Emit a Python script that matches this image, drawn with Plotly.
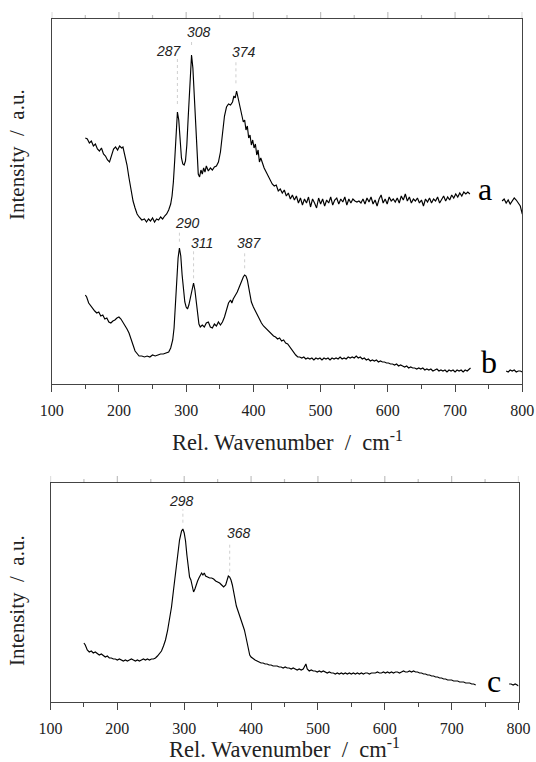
import plotly.graph_objects as go

# ---------------- data ----------------
# spectrum a (upper panel), intensity in arbitrary units
a_wn = [150,153,156,159,162,165,168,171,174,177,180,183,186,189,192,195,198,201,204,206,209,212,215,218,221,224,227,230,234,238,241,244,247,250,253,256,259,262,265,268,271,274,277,279,281,283,285,287,289,291,293,295,297,299,301,303,305,307,308,310,312,314,316,318,320,322,324,326,328,330,333,336,339,342,345,348,351,354,357,360,363,366,369,371,373,375,377,379,381,383,385,387,389,391,393,395,397,399,401,403,405,407,409,411,413,416,419,422,425,428,431,434,437,440,443,446,449,452,455,458,461,464,467,470,473,476,479,482,485,488,491,494,497,500,503,506,509,512,515,518,521,524,527,530,533,536,539,542,545,548,551,554,557,560,563,566,569,572,575,578,581,584,587,590,593,596,599,602,605,608,611,614,617,620,623,626,629,632,635,638,641,644,647,650,653,656,659,662,665,668,671,674,677,680,683,686,689,692,695,698,701,704,707,710,713,716,719,722]
a_int = [246,245,241,243,238,240,235,233,236,230,228,224,222,229,235,237,234,238,236,237,229,219,206,194,183,176,170,167,164,165,162,165,163,166,162,165,164,167,165,168,170,174,180,188,202,224,249,272,264,242,226,220,219,223,239,266,296,324,329,316,289,254,224,210,207,214,210,216,212,218,213,216,214,217,218,222,232,249,268,277,280,279,282,288,286,293,287,281,276,268,262,264,254,258,246,249,239,244,236,240,229,234,222,226,221,216,212,208,204,200,198,199,193,195,191,194,188,191,185,189,184,188,181,186,179,185,181,187,177,185,181,176,186,180,185,178,184,181,187,179,184,186,180,185,182,187,179,185,181,185,183,182,183,181,185,180,186,182,187,180,184,178,185,189,181,185,180,187,183,185,182,186,181,188,184,190,183,187,181,185,183,186,181,184,178,185,182,186,181,185,183,187,181,185,188,183,187,184,189,186,190,187,191,188,192,190,192,190]
a_tail_wn = [770,773,776,779,782,785,788,791,794,797,800]
a_tail_int = [183,185,181,184,180,183,186,184,181,178,170]

# spectrum b (upper panel)
b_wn = [150,152,155,158,161,164,167,170,173,176,179,182,185,188,191,194,197,200,203,206,209,212,215,218,221,224,227,230,234,238,242,246,250,254,258,262,266,270,274,277,280,282,284,286,288,290,292,294,296,298,300,302,304,306,308,310,311,313,315,317,319,321,324,327,330,333,336,339,342,345,348,351,354,357,360,363,366,368,370,373,376,379,382,385,387,389,391,393,395,397,400,403,406,409,412,415,418,421,424,427,430,433,436,439,442,445,448,451,454,457,460,463,466,469,472,475,478,481,484,487,490,493,496,499,502,505,508,511,514,517,520,523,526,529,532,535,538,541,544,547,550,553,556,559,562,565,568,571,574,577,580,583,586,589,592,595,598,601,604,607,610,613,616,619,622,625,628,631,634,637,640,643,646,649,652,655,658,661,664,667,670,673,676,679,682,685,688,691,694,697,700,703,706,709,712,715,718,721,723]
b_int = [89,87,81,78,75,73,71,72,68,69,65,66,62,61,63,64,66,67,65,62,59,55,51,46,39,33,30,28,28,27,28,27,29,28,29,30,30,31,32,36,44,56,79,104,126,136,128,109,92,82,77,75,79,86,94,100,101,94,81,68,60,57,59,57,61,62,57,56,60,58,62,59,62,67,74,81,84,81,85,88,92,97,103,107,109,108,104,97,89,82,77,73,68,65,61,58,56,53,51,50,48,47,45,46,43,44,41,40,37,34,31,29,27,27,26,27,25,26,25,26,24,26,25,26,24,26,25,26,24,26,25,26,25,27,25,26,25,27,26,27,26,28,26,27,25,26,24,25,23,24,23,24,22,23,22,22,21,21,20,20,19,20,18,19,18,17,18,16,17,16,16,15,16,15,16,14,15,14,15,13,14,15,13,14,13,14,12,14,13,14,12,14,13,14,12,14,13,15,16]
b_tail_wn = [776,779,782,785,788,791,794,797,800]
b_tail_int = [13,12,14,13,14,12,13,13,12]

# spectrum c (lower panel)
c_wn = [150,152,155,158,161,164,167,170,173,176,179,182,185,188,191,194,197,200,203,206,209,212,215,218,221,224,227,230,233,236,239,242,245,248,251,254,257,260,263,266,269,272,275,278,281,284,287,290,293,296,298,300,302,304,306,308,310,312,314,316,318,320,322,324,326,328,330,332,335,338,341,344,347,350,353,356,359,362,364,366,368,370,372,374,376,378,380,382,384,386,388,390,392,394,396,398,400,403,406,409,412,415,418,421,424,427,430,433,436,439,442,445,448,451,454,457,460,463,466,469,472,475,478,480,482,484,487,490,493,496,499,502,505,508,511,514,517,520,523,526,529,532,535,538,541,544,547,550,553,556,559,562,565,568,571,574,577,580,583,586,589,592,595,598,601,604,607,610,613,616,619,622,625,628,631,634,637,640,643,646,649,652,655,658,661,664,667,670,673,676,679,682,685,688,691,694,697,700,703,706,709,712,715,718,721,724,727,730,733,736]
c_int = [59,57,52,50,51,49,50,48,47,48,46,45,46,44,44,43,43,42,43,42,41,42,41,42,43,42,41,42,41,42,43,42,43,42,43,43,44,46,48,51,56,62,71,82,95,112,130,147,162,171,173,169,161,147,132,125,122,115,110,113,118,121,124,126,129,127,129,126,125,124,124,123,121,120,119,117,115,117,122,126,125,122,117,109,102,96,92,88,85,81,77,72,66,59,52,47,45,43,42,41,40,39,39,38,38,37,37,36,36,36,35,35,34,35,34,34,33,34,33,32,33,32,33,36,38,33,31,32,31,31,30,31,30,31,30,29,30,29,29,28,29,28,29,28,29,28,29,28,29,28,29,28,29,28,29,29,28,29,29,29,30,29,29,30,29,30,29,30,29,30,30,29,30,31,30,30,31,30,31,30,30,29,29,28,28,27,27,26,26,25,25,24,24,23,23,22,22,22,21,21,21,20,20,20,19,19,19,18,18,17]
c_tail_wn = [786,789,792,795,798,800]
c_tail_int = [18,18,17,18,17,16]

# peak annotations: position, label position, dotted-line span
peaks_top = [287, 308, 374, 290, 311, 387]
peaks_top_text = ["287", "308", "374", "290", "311", "387"]
peaks_top_label_x = [275, 319, 386, 302.7, 324.3, 393.5]
peaks_top_label_y = [333, 352.3, 332.3, 161.3, 141.3, 140.7]
peaks_top_line_y0 = [280, 339, 300.7, 142.3, 105.7, 115.7]
peaks_top_line_y1 = [325, 343.3, 324, 154, 135.7, 130.7]

peaks_bot = [298, 368]
peaks_bot_text = ["298", "368"]
peaks_bot_label_x = [296.4, 382]
peaks_bot_label_y = [201.3, 168.7]
peaks_bot_line_y0 = [179.3, 130.3]
peaks_bot_line_y1 = [192.7, 160.3]

x_ticks = [100, 200, 300, 400, 500, 600, 700, 800]
x_range = [100, 800]
curve_letters = ["a", "b", "c"]

# ---------------- figure ----------------
W, H = 536, 762
def px_y(py):
    return (H - py) / H

fig = go.Figure()
line = dict(color="black", width=1.15)
for xs, ys in [(a_wn, a_int), (a_tail_wn, a_tail_int), (b_wn, b_int), (b_tail_wn, b_tail_int)]:
    fig.add_trace(go.Scatter(x=xs, y=ys, mode="lines", line=line, xaxis="x", yaxis="y",
                             showlegend=False, hoverinfo="skip"))
for xs, ys in [(c_wn, c_int), (c_tail_wn, c_tail_int)]:
    fig.add_trace(go.Scatter(x=xs, y=ys, mode="lines", line=line, xaxis="x2", yaxis="y2",
                             showlegend=False, hoverinfo="skip"))

tickfont = dict(family="Liberation Serif", size=16, color="#222")
axcol = "#444"
def xaxis(domain, anchor):
    return dict(domain=domain, anchor=anchor, range=x_range, tickvals=x_ticks,
                ticks="outside", ticklen=7, tickwidth=1, tickcolor=axcol,
                minor=dict(dtick=50, ticks="outside", ticklen=4, tickwidth=1, tickcolor=axcol),
                showgrid=False, zeroline=False, tickfont=tickfont, automargin=False,
                showline=True, linecolor=axcol, linewidth=1.2, mirror=True, ticklabelstandoff=5)
def yaxis(domain, anchor, rng):
    return dict(domain=domain, anchor=anchor, range=rng, showticklabels=False, ticks="",
                showline=True, linecolor=axcol, linewidth=1.2, mirror=True,
                showgrid=False, zeroline=False, automargin=False)

top_px, top_h = 19, 365
bot_px, bot_h = 483, 219
fig.update_layout(
    template="simple_white",
    width=W, height=H, margin=dict(l=0, r=0, t=0, b=0, autoexpand=False),
    paper_bgcolor="white", plot_bgcolor="white",
    xaxis=xaxis([51.7 / W, 522.3 / W], "y"),
    yaxis=yaxis([px_y(top_px + top_h), px_y(top_px)], "x", [0, 365]),
    xaxis2=xaxis([50.5 / W, 518.5 / W], "y2"),
    yaxis2=yaxis([px_y(bot_px + bot_h), px_y(bot_px)], "x2", [0, 219]),
)

# mirrored tick marks along the top edge of each panel (major + minor)
minor_ticks = [(x_ticks[i] + x_ticks[i + 1]) / 2 for i in range(len(x_ticks) - 1)]
for xr, yr, hpx in [("x", "y domain", top_h), ("x2", "y2 domain", bot_h)]:
    for v in x_ticks:
        fig.add_shape(type="line", xref=xr, yref=yr, x0=v, x1=v, y0=1, y1=1 + 7 / hpx,
                      line=dict(color="#333", width=1.2))
    for v in minor_ticks:
        fig.add_shape(type="line", xref=xr, yref=yr, x0=v, x1=v, y0=1, y1=1 + 4 / hpx,
                      line=dict(color="#333", width=1.2))

lblfont = dict(family="Liberation Sans", size=14, color="#222", style="italic")
dot = dict(color="#666", width=1, dash="dot")
for p, t, lx, ly, y0, y1 in zip(peaks_top, peaks_top_text, peaks_top_label_x, peaks_top_label_y,
                               peaks_top_line_y0, peaks_top_line_y1):
    fig.add_annotation(x=lx, y=ly, xref="x", yref="y", text=t, showarrow=False, font=lblfont,
                       xanchor="center", yanchor="middle")
    fig.add_shape(type="line", x0=p, x1=p, y0=y0, y1=y1, xref="x", yref="y", line=dot)
for p, t, lx, ly, y0, y1 in zip(peaks_bot, peaks_bot_text, peaks_bot_label_x, peaks_bot_label_y,
                               peaks_bot_line_y0, peaks_bot_line_y1):
    fig.add_annotation(x=lx, y=ly, xref="x2", yref="y2", text=t, showarrow=False, font=lblfont,
                       xanchor="center", yanchor="middle")
    fig.add_shape(type="line", x0=p, x1=p, y0=y0, y1=y1, xref="x2", yref="y2", line=dot)

letfont = dict(family="Liberation Serif", size=32, color="black")
for t, x, y, xr, yr in zip(curve_letters, [744.5, 750.5, 763], [195, 22, 21],
                           ["x", "x", "x2"], ["y", "y", "y2"]):
    fig.add_annotation(x=x, y=y, xref=xr, yref=yr, text=t, showarrow=False, font=letfont,
                       xanchor="center", yanchor="middle")

titlefont = dict(family="Liberation Serif", size=22.5, color="#222")
yfont = dict(family="Liberation Serif", size=21, color="#222")
xtitle = "Rel. Wavenumber \u00a0/\u00a0 cm<sup>-1</sup>"
ytitle = "Intensity \u00a0/\u00a0 a.u."
fig.add_annotation(x=287 / W, y=px_y(441), xref="paper", yref="paper", text=xtitle,
                   showarrow=False, font=titlefont, xanchor="center", yanchor="middle")
fig.add_annotation(x=284.5 / W, y=px_y(748), xref="paper", yref="paper", text=xtitle,
                   showarrow=False, font=titlefont, xanchor="center", yanchor="middle")
fig.add_annotation(x=17 / W, y=px_y(155), xref="paper", yref="paper", text=ytitle, textangle=-90,
                   showarrow=False, font=yfont, xanchor="center", yanchor="middle")
fig.add_annotation(x=17 / W, y=px_y(601), xref="paper", yref="paper", text=ytitle, textangle=-90,
                   showarrow=False, font=yfont, xanchor="center", yanchor="middle")

fig.write_html("out.html", config={"displayModeBar": False},
               post_script="document.body.style.margin='0px';")
